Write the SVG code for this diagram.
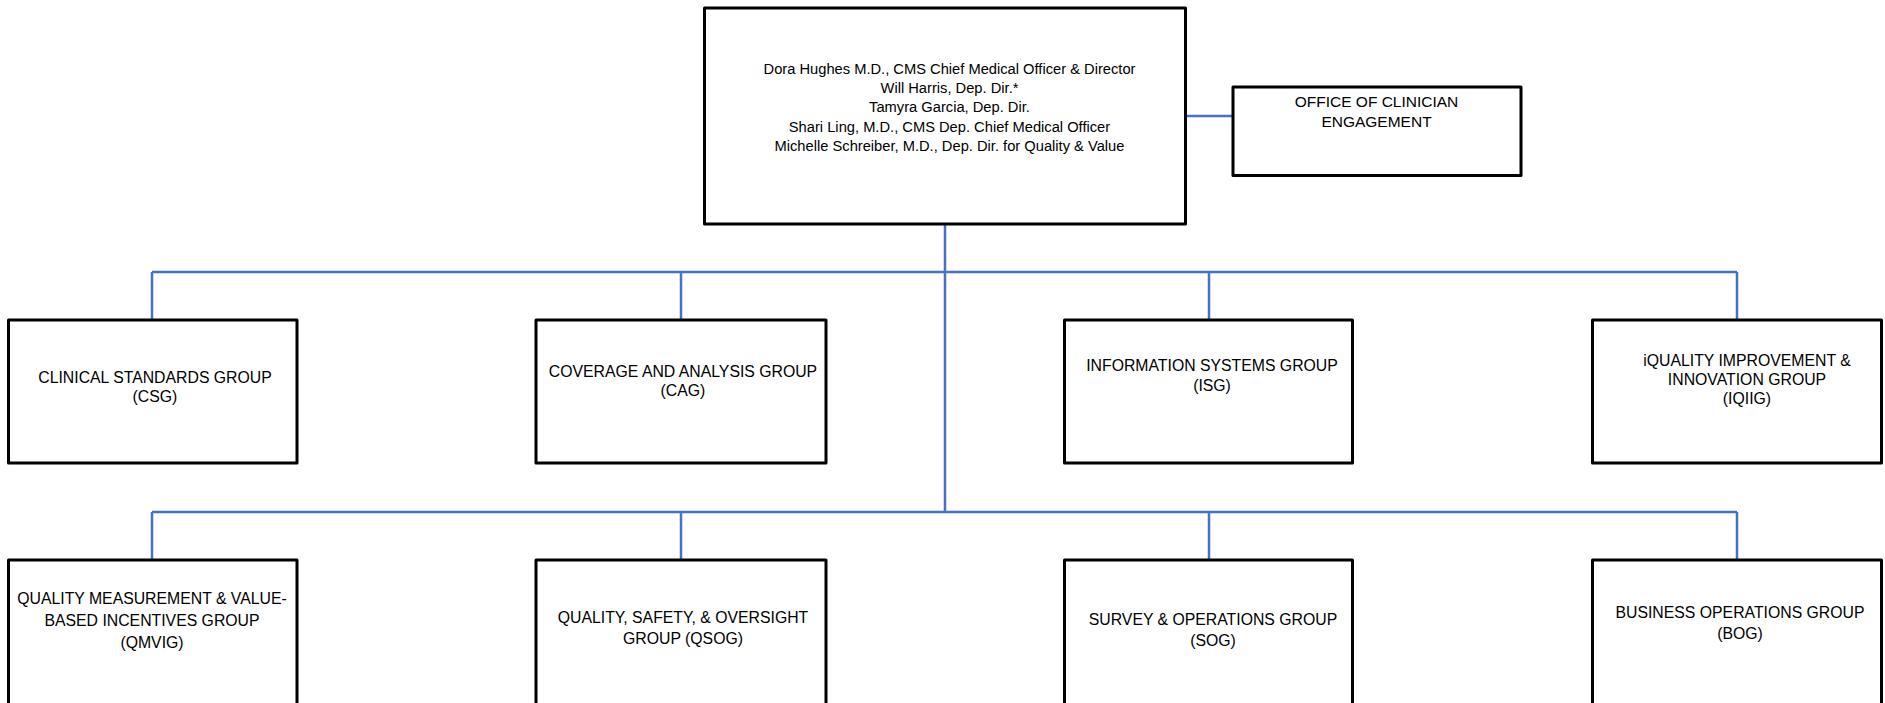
<svg xmlns="http://www.w3.org/2000/svg" width="1885" height="703" viewBox="0 0 1885 703">
<style>
.box{fill:#ffffff;stroke:#000000;stroke-width:3;stroke-linejoin:round}
.con{fill:none;stroke:#4472C4;stroke-width:2.5}
text{font-family:"Liberation Sans",Arial,sans-serif;fill:#000000;text-anchor:middle}
.g{font-size:15.8px}
.t{font-size:14.7px}
.o{font-size:15.5px}
</style>
<rect width="1885" height="703" fill="#ffffff"/>
<g id="connectors">
<line class="con" x1="1186" y1="116" x2="1233" y2="116"/>
<line class="con" x1="945" y1="224" x2="945" y2="512"/>
<line class="con" x1="152" y1="272" x2="1737" y2="272"/>
<line class="con" x1="152" y1="272" x2="152" y2="320"/>
<line class="con" x1="681" y1="272" x2="681" y2="320"/>
<line class="con" x1="1209" y1="272" x2="1209" y2="320"/>
<line class="con" x1="1737" y1="272" x2="1737" y2="320"/>
<line class="con" x1="152" y1="512" x2="1737" y2="512"/>
<line class="con" x1="152" y1="512" x2="152" y2="560"/>
<line class="con" x1="681" y1="512" x2="681" y2="560"/>
<line class="con" x1="1209" y1="512" x2="1209" y2="560"/>
<line class="con" x1="1737" y1="512" x2="1737" y2="560"/>
</g>
<g id="director">
<rect class="box" x="704.5" y="8" width="481" height="216"/>
<text class="t" x="949.5" y="74">Dora Hughes M.D., CMS Chief Medical Officer &amp; Director</text>
<text class="t" x="949.5" y="93.2">Will Harris, Dep. Dir.*</text>
<text class="t" x="949.5" y="112.4">Tamyra Garcia, Dep. Dir.</text>
<text class="t" x="949.5" y="131.6">Shari Ling, M.D., CMS Dep. Chief Medical Officer</text>
<text class="t" x="949.5" y="150.8">Michelle Schreiber, M.D., Dep. Dir. for Quality &amp; Value</text>
</g>
<g id="oce">
<rect class="box" x="1233" y="87" width="288" height="88.5"/>
<text class="o" x="1376.5" y="107">OFFICE OF CLINICIAN</text>
<text class="o" x="1376.5" y="127">ENGAGEMENT</text>
</g>
<g id="csg">
<rect class="box" x="8.5" y="320" width="288.5" height="143"/>
<text class="g" x="155" y="383">CLINICAL STANDARDS GROUP</text>
<text class="g" x="155" y="402">(CSG)</text>
</g>
<g id="cag">
<rect class="box" x="536" y="320" width="290" height="143"/>
<text class="g" x="683" y="376.5">COVERAGE AND ANALYSIS GROUP</text>
<text class="g" x="683" y="396">(CAG)</text>
</g>
<g id="isg">
<rect class="box" x="1064.5" y="320" width="288" height="143"/>
<text class="g" x="1212" y="371">INFORMATION SYSTEMS GROUP</text>
<text class="g" x="1212" y="391">(ISG)</text>
</g>
<g id="iqiig">
<rect class="box" x="1592.5" y="320" width="289" height="143"/>
<text class="g" x="1747" y="366">iQUALITY IMPROVEMENT &amp;</text>
<text class="g" x="1747" y="385">INNOVATION GROUP</text>
<text class="g" x="1747" y="404">(IQIIG)</text>
</g>
<g id="qmvig">
<rect class="box" x="8.5" y="560" width="288.5" height="150"/>
<text class="g" x="152" y="604">QUALITY MEASUREMENT &amp; VALUE-</text>
<text class="g" x="152" y="626">BASED INCENTIVES GROUP</text>
<text class="g" x="152" y="648">(QMVIG)</text>
</g>
<g id="qsog">
<rect class="box" x="536" y="560" width="290" height="150"/>
<text class="g" x="683" y="622.5">QUALITY, SAFETY, &amp; OVERSIGHT</text>
<text class="g" x="683" y="643.5">GROUP (QSOG)</text>
</g>
<g id="sog">
<rect class="box" x="1064.5" y="560" width="288" height="150"/>
<text class="g" x="1213" y="625">SURVEY &amp; OPERATIONS GROUP</text>
<text class="g" x="1213" y="645.5">(SOG)</text>
</g>
<g id="bog">
<rect class="box" x="1592.5" y="560" width="289" height="150"/>
<text class="g" x="1740" y="618">BUSINESS OPERATIONS GROUP</text>
<text class="g" x="1740" y="638.5">(BOG)</text>
</g>
</svg>
